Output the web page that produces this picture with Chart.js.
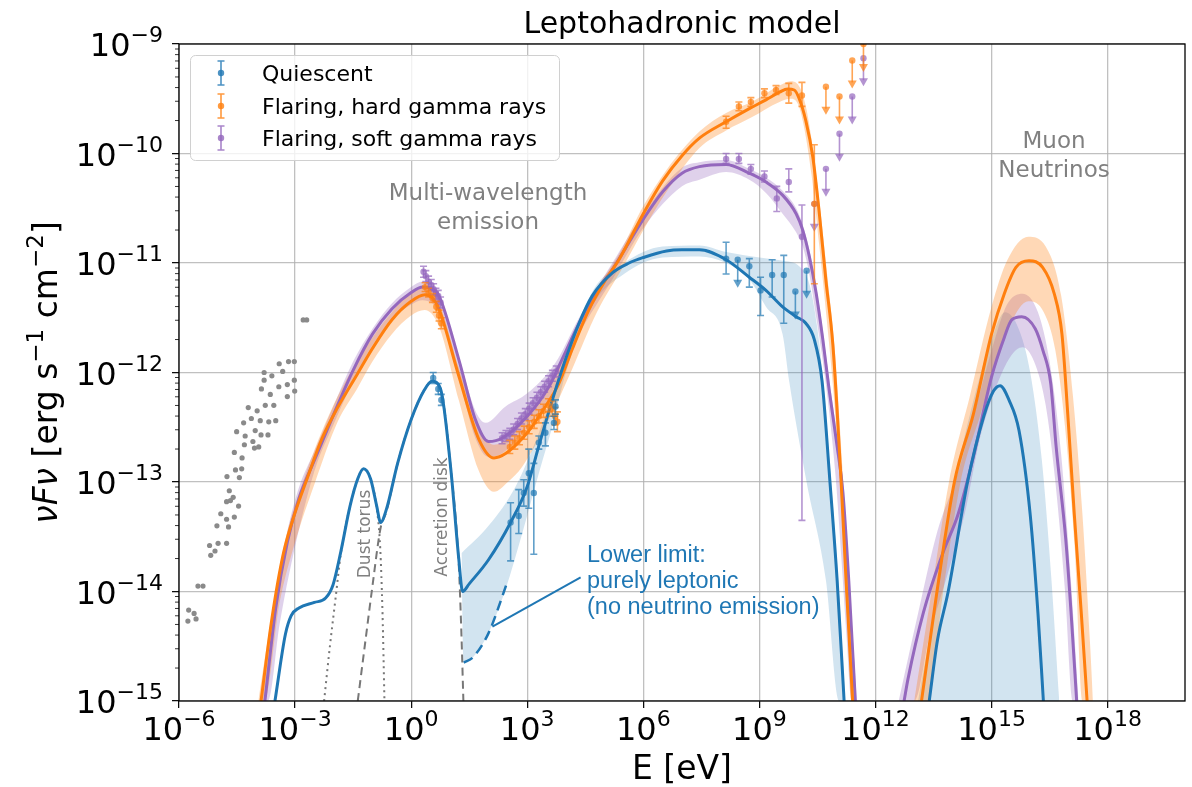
<!DOCTYPE html>
<html>
<head>
<meta charset="utf-8">
<script src="https://cdn.jsdelivr.net/npm/chart.js@4.4.1/dist/chart.umd.min.js"></script>
<style>
  body { margin: 0; background: #fff; }
  canvas { display: block; }
</style>
</head>
<body>
<canvas id="sed" width="1192" height="787"></canvas>
<script>
// all values are log10(E / eV), log10(nuFnu / erg s^-1 cm^-2)
const xTickExps = [-6, -3, 0, 3, 6, 9, 12, 15, 18];
const yTickExps = [-15, -14, -13, -12, -11, -10, -9];

// model curves
const quiescentCurve = [[-3.52,-15],[-3.25,-14.39],[-3.1,-14.22],[-2.9,-14.15],[-2.5,-14.1],[-2.21,-14.06],[-2.02,-13.94],[-1.82,-13.64],[-1.58,-13.22],[-1.38,-12.97],[-1.23,-12.88],[-1.05,-12.97],[-0.89,-13.22],[-0.79,-13.37],[-0.64,-13.25],[-0.35,-12.83],[0,-12.43],[0.34,-12.16],[0.54,-12.08],[0.76,-12.15],[1.03,-12.9],[1.23,-13.7],[1.33,-14.0],[1.5,-13.93],[2.0,-13.71],[2.57,-13.37],[3.0,-13.04],[3.3,-12.67],[3.65,-12.25],[3.99,-11.88],[4.34,-11.55],[4.68,-11.3],[5.2,-11.09],[5.63,-11.0],[6.0,-10.95],[6.6,-10.89],[7.0,-10.88],[7.45,-10.88],[8.14,-10.97],[8.74,-11.13],[9.17,-11.25],[9.6,-11.4],[9.95,-11.49],[10.2,-11.55],[10.42,-11.7],[10.62,-12.08],[10.82,-12.98],[11.01,-13.9],[11.19,-15]];
const hardCurve = [[-3.88,-15],[-3.6,-14.25],[-3.3,-13.65],[-3.0,-13.28],[-2.7,-12.98],[-2.3,-12.6],[-1.9,-12.32],[-1.4,-12.02],[-1.0,-11.78],[-0.5,-11.52],[0,-11.35],[0.35,-11.29],[0.55,-11.32],[0.72,-11.42],[1.23,-12.03],[1.75,-12.61],[2.14,-12.78],[2.44,-12.74],[3.0,-12.55],[3.47,-12.31],[3.82,-12.1],[4.16,-11.79],[4.59,-11.43],[5.03,-11.15],[5.37,-10.97],[6.0,-10.55],[6.5,-10.25],[7.0,-10.02],[7.45,-9.86],[8.14,-9.71],[8.74,-9.59],[9.17,-9.51],[9.52,-9.44],[9.73,-9.41],[9.9,-9.42],[10.03,-9.5],[10.2,-9.7],[10.38,-10.03],[10.55,-10.55],[10.72,-11.16],[10.9,-11.75],[11.11,-12.98],[11.24,-13.9],[11.41,-15]];
const softCurve = [[-3.78,-15],[-3.5,-14.15],[-3.2,-13.55],[-2.9,-13.15],[-2.5,-12.8],[-2.0,-12.38],[-1.5,-11.98],[-1.0,-11.65],[-0.5,-11.42],[0,-11.27],[0.3,-11.22],[0.55,-11.24],[0.72,-11.3],[1.23,-11.88],[1.66,-12.43],[2.0,-12.63],[2.35,-12.6],[3.0,-12.4],[3.56,-12.13],[3.9,-11.88],[4.34,-11.55],[4.77,-11.27],[5.2,-11.06],[6.0,-10.6],[6.5,-10.35],[7.0,-10.18],[7.45,-10.12],[8.14,-10.1],[8.74,-10.18],[9.17,-10.26],[9.6,-10.38],[9.95,-10.55],[10.12,-10.7],[10.29,-10.94],[10.47,-11.28],[10.64,-11.7],[10.8,-12.15],[11.0,-12.65],[11.16,-13.1],[11.31,-13.9],[11.48,-15]];
const quiescentNu = [[13.39,-15],[13.6,-14.45],[13.88,-14.0],[14.38,-13.0],[14.8,-12.4],[15.05,-12.17],[15.22,-12.12],[15.45,-12.25],[15.71,-12.53],[16.0,-13.3],[16.2,-14.2],[16.34,-15]];
const hardNu = [[13.19,-15],[13.59,-14],[14.04,-13],[14.53,-12.38],[15.0,-11.65],[15.33,-11.28],[15.63,-11.04],[15.97,-10.98],[16.32,-11.04],[16.62,-11.28],[16.82,-11.65],[16.97,-12.38],[17.14,-13.3],[17.32,-14.2],[17.47,-15]];
const softNu = [[12.74,-15],[12.84,-14.8],[13.24,-14.19],[13.74,-13.65],[14.14,-13.29],[14.53,-12.77],[15.0,-12.04],[15.33,-11.68],[15.52,-11.52],[15.78,-11.49],[16.13,-11.6],[16.33,-11.8],[16.53,-12.1],[16.67,-12.68],[16.92,-13.53],[17.07,-14.27],[17.2,-15]];

// components and lower limit
const dustTorus = [[-2.25,-15],[-2.1,-14.5],[-1.95,-14.05],[-1.82,-13.66],[-1.58,-13.22],[-1.38,-12.97],[-1.23,-12.88],[-1.05,-12.97],[-0.89,-13.24],[-0.8,-13.6],[-0.74,-14.2],[-0.69,-15]];
const accretionDisk = [[-1.38,-15],[-1.2,-14.5],[-1.0,-13.95],[-0.79,-13.42],[-0.64,-13.27],[-0.35,-12.83],[0,-12.43],[0.34,-12.16],[0.54,-12.08],[0.76,-12.15],[1.03,-12.9],[1.23,-13.75],[1.3,-14.4],[1.35,-15]];
const leptonicLimit = [[1.36,-14.65],[1.6,-14.6],[2.0,-14.38],[2.5,-13.9]];
const limitPointer = [[2.1,-14.32],[4.38,-13.87]];

// uncertainty bands (upper, lower)
const hardBandHi = [[-3.95,-15],[-3.6,-14.2],[-3.3,-13.6],[-2.7,-12.9],[-1.9,-12.22],[-1.0,-11.68],[-0.5,-11.45],[0,-11.27],[0.35,-11.22],[0.72,-11.36],[1.23,-11.95],[1.75,-12.5],[2.14,-12.66],[2.5,-12.6],[3.0,-12.4],[3.5,-12.18],[4.16,-11.7],[4.6,-11.35],[5.4,-10.9],[6.0,-10.48],[6.6,-10.15],[7.45,-9.8],[8.14,-9.63],[8.8,-9.53],[9.52,-9.38],[9.8,-9.34],[10.05,-9.4],[10.22,-9.6],[10.4,-10.0],[10.57,-10.5],[10.75,-11.1],[10.95,-11.8],[11.15,-12.9],[11.3,-13.9],[11.46,-15]];
const hardBandLo = [[-3.95,-15],[-3.8,-15],[-3.4,-14.1],[-3.0,-13.55],[-2.5,-13.02],[-1.9,-12.45],[-1.4,-12.15],[-1.0,-11.9],[-0.5,-11.65],[0,-11.48],[0.35,-11.43],[0.72,-11.58],[1.23,-12.25],[1.75,-12.9],[2.14,-13.09],[2.5,-13.0],[2.87,-12.86],[3.56,-12.43],[4.16,-11.97],[4.8,-11.45],[5.5,-11.02],[6.0,-10.7],[6.6,-10.35],[7.45,-9.95],[8.14,-9.79],[8.8,-9.67],[9.52,-9.53],[9.8,-9.5],[10.0,-9.55],[10.15,-9.75],[10.35,-10.2],[10.55,-10.85],[10.75,-11.55],[10.92,-12.2],[11.1,-13.1],[11.25,-14.0],[11.38,-15],[11.46,-15]];
const softBandHi = [[-3.85,-15],[-3.5,-14.05],[-3.2,-13.45],[-2.9,-13.05],[-2.5,-12.72],[-2.0,-12.3],[-1.5,-11.9],[-1.0,-11.6],[-0.5,-11.37],[0,-11.22],[0.3,-11.17],[0.55,-11.2],[0.72,-11.27],[1.23,-11.85],[1.66,-12.35],[1.92,-12.46],[2.44,-12.31],[3.0,-12.19],[3.73,-11.91],[4.34,-11.5],[5.2,-11.0],[6.0,-10.55],[7.0,-10.13],[7.45,-10.08],[8.14,-10.06],[8.74,-10.14],[9.17,-10.22],[9.6,-10.34],[9.95,-10.5],[10.12,-10.65],[10.29,-10.88],[10.47,-11.22],[10.64,-11.62],[10.8,-12.05],[11.0,-12.55],[11.16,-13.0],[11.32,-13.9],[11.52,-15]];
const softBandLo = [[-3.85,-15],[-3.7,-15],[-3.4,-14.3],[-3.1,-13.75],[-2.5,-12.9],[-2.0,-12.47],[-1.5,-12.08],[-1.0,-11.75],[-0.5,-11.52],[0,-11.38],[0.3,-11.34],[0.55,-11.37],[0.72,-11.45],[1.23,-12.05],[1.66,-12.6],[2.0,-12.77],[2.35,-12.74],[3.0,-12.5],[3.56,-12.24],[4.34,-11.65],[5.2,-11.15],[6.0,-10.68],[7.0,-10.3],[7.45,-10.24],[8.14,-10.17],[8.74,-10.24],[9.17,-10.36],[9.6,-10.55],[9.95,-10.72],[10.12,-10.85],[10.29,-11.1],[10.47,-11.5],[10.64,-11.9],[10.8,-12.35],[10.97,-12.95],[11.12,-13.7],[11.25,-14.4],[11.38,-15],[11.52,-15]];
const quiescentBandHi = [[1.3,-13.65],[2.0,-13.4],[2.7,-13.04],[3.3,-12.55],[4.0,-11.85],[4.7,-11.25],[5.5,-11.0],[6.5,-10.85],[7.45,-10.84],[8.14,-10.9],[9.0,-10.95],[9.6,-10.98],[10.03,-11.03],[10.3,-11.2],[10.5,-11.6],[10.65,-12.08],[10.85,-12.98],[11.04,-13.9],[11.22,-15]];
const quiescentBandLo = [[1.3,-13.65],[1.36,-14.65],[1.6,-14.6],[2.0,-14.38],[2.44,-13.98],[2.87,-13.47],[3.3,-12.92],[3.65,-12.49],[4.0,-12.0],[4.7,-11.38],[5.5,-11.1],[6.5,-10.95],[7.45,-10.94],[8.14,-11.0],[8.74,-11.15],[9.17,-11.4],[9.6,-11.65],[9.77,-12.08],[10.22,-13.0],[10.72,-13.9],[11.06,-15],[11.22,-15]];
const hardNuBandHi = [[13.0,-15],[13.45,-14],[13.9,-13],[14.45,-12.2],[15.0,-11.4],[15.4,-10.98],[15.95,-10.76],[16.4,-10.85],[16.8,-11.3],[17.1,-12.2],[17.35,-13.3],[17.55,-14.5],[17.62,-15]];
const hardNuBandLo = [[13.0,-15],[13.35,-15],[13.75,-14],[14.2,-13],[14.7,-12.4],[15.1,-11.95],[15.5,-11.55],[15.95,-11.35],[16.35,-11.45],[16.65,-11.8],[16.9,-12.5],[17.15,-13.6],[17.35,-15],[17.62,-15]];
const softNuBandHi = [[12.6,-15],[13.1,-14.2],[13.6,-13.45],[14.1,-12.95],[14.5,-12.45],[15.0,-11.8],[15.4,-11.38],[15.8,-11.28],[16.2,-11.45],[16.5,-11.9],[16.8,-12.75],[17.05,-13.9],[17.25,-15]];
const softNuBandLo = [[12.6,-15],[13.0,-15],[13.4,-14.4],[13.9,-13.8],[14.3,-13.3],[14.7,-12.6],[15.1,-12.15],[15.5,-11.85],[15.8,-11.77],[16.1,-11.9],[16.4,-12.3],[16.65,-13.0],[16.9,-14.0],[17.1,-15],[17.25,-15]];
const quiescentNuBand = [[13.1,-15],[13.5,-14.2],[14.0,-13.1],[14.5,-12.3],[15.0,-11.7],[15.35,-11.45],[15.7,-11.6],[16.0,-12.0],[16.3,-12.8],[16.55,-13.9],[16.75,-15]];

// data: [logE, logF, logF_hi, logF_lo]; limits: [logE, logF]
const quiescentPoints = [[0.57,-12.05,-12.0,-12.1],[0.7,-12.15,-12.1,-12.2],[0.78,-12.25,-12.2,-12.3],
  [2.57,-13.37,-13.19,-13.72],[2.78,-13.31,-13.07,-13.47],[2.91,-13.1,-12.98,-13.22],[3.04,-12.92,-12.7,-13.24],[3.17,-13.1,-12.83,-13.66],[3.3,-12.64,-12.58,-12.7],[3.47,-12.55,-12.46,-12.67],[3.69,-12.46,-12.4,-12.52],[3.73,-12.31,-12.25,-12.38],
  [8.14,-10.96,-10.81,-11.1],[8.74,-11.03,-10.96,-11.22],[9.03,-11.25,-11.13,-11.48],[9.33,-11.11,-10.97,-11.31],[9.63,-11.11,-10.93,-11.55]];
const quiescentLimits = [[8.44,-10.97],[9.93,-11.26],[10.22,-11.07]];
const hardPoints = [[0.36,-11.22,-11.18,-11.26],[0.45,-11.27,-11.23,-11.31],[0.55,-11.32,-11.28,-11.36],[0.65,-11.4,-11.35,-11.45],[0.72,-11.48,-11.43,-11.53],[0.78,-11.55,-11.5,-11.6],
  [2.55,-12.68,-12.62,-12.74],[2.68,-12.64,-12.58,-12.7],[2.8,-12.6,-12.54,-12.66],[2.92,-12.55,-12.49,-12.61],[3.05,-12.5,-12.44,-12.56],[3.18,-12.45,-12.39,-12.51],[3.3,-12.4,-12.34,-12.46],[3.42,-12.35,-12.29,-12.41],[3.55,-12.3,-12.24,-12.36],[3.65,-12.33,-12.26,-12.4],[3.72,-12.4,-12.32,-12.48],[3.78,-12.45,-12.36,-12.54],
  [8.14,-9.71,-9.66,-9.77],[8.47,-9.57,-9.53,-9.61],[8.78,-9.53,-9.49,-9.57],[9.13,-9.45,-9.41,-9.49],[9.43,-9.42,-9.38,-9.46],[9.76,-9.45,-9.36,-9.54],[10.1,-9.47,-9.35,-9.57],[10.42,-10.46,-9.92,-11.19]];
const hardLimits = [[10.72,-9.39],[11.07,-9.48],[11.4,-9.15],[11.69,-9.0]];
const softPoints = [[0.32,-11.08,-11.03,-11.13],[0.38,-11.12,-11.07,-11.17],[0.45,-11.17,-11.12,-11.22],[0.52,-11.2,-11.15,-11.25],[0.58,-11.24,-11.19,-11.29],[0.64,-11.28,-11.23,-11.33],[0.7,-11.3,-11.25,-11.35],[0.76,-11.36,-11.31,-11.41],
  [2.35,-12.6,-12.55,-12.65],[2.45,-12.58,-12.53,-12.63],[2.55,-12.56,-12.51,-12.61],[2.65,-12.52,-12.47,-12.57],[2.75,-12.47,-12.42,-12.52],[2.85,-12.42,-12.37,-12.47],[2.95,-12.38,-12.33,-12.43],[3.05,-12.33,-12.28,-12.38],[3.15,-12.28,-12.23,-12.33],[3.25,-12.23,-12.18,-12.28],[3.35,-12.18,-12.13,-12.23],[3.45,-12.13,-12.08,-12.18],[3.55,-12.08,-12.03,-12.13],[3.65,-12.03,-11.98,-12.08],[3.75,-11.99,-11.94,-12.04],
  [8.14,-10.05,-10.0,-10.09],[8.47,-10.05,-10.0,-10.09],[8.78,-10.14,-10.1,-10.19],[9.13,-10.21,-10.16,-10.26],[9.45,-10.41,-10.3,-10.53],[9.76,-10.26,-10.14,-10.35],[10.1,-10.76,-10.47,-13.35]];
const softLimits = [[10.42,-10.46],[10.72,-10.14],[11.07,-9.82],[11.4,-9.48],[11.69,-9.13]];
const dustPoints = [[-2.79,-11.52],[-2.7,-11.52],[-3.41,-11.92],[-3.17,-11.9],[-3.02,-11.9],[-3.8,-12.0],[-3.6,-12.03],[-3.32,-11.99],[-3.8,-12.07],[-3.02,-12.07],[-3.42,-12.13],[-3.2,-12.11],[-3.01,-12.17],[-3.87,-12.15],[-3.64,-12.2],[-3.2,-12.22],[-3.77,-12.3],[-3.55,-12.3],[-4.21,-12.32],[-3.98,-12.35],[-4.13,-12.42],[-3.9,-12.44],[-3.68,-12.45],[-3.5,-12.44],[-4.33,-12.46],[-4.51,-12.54],[-4.03,-12.53],[-4.29,-12.58],[-3.88,-12.57],[-3.7,-12.57],[-4.09,-12.63],[-4.31,-12.66],[-3.94,-12.68],[-4.05,-12.69],[-4.57,-12.73],[-4.37,-12.78],[-4.54,-12.89],[-4.38,-12.88],[-4.76,-12.95],[-4.44,-12.96],[-4.7,-13.08],[-4.6,-13.14],[-4.46,-13.22],[-4.77,-13.18],[-4.67,-13.17],[-4.92,-13.29],[-4.77,-13.34],[-4.57,-13.32],[-5.02,-13.4],[-4.72,-13.41],[-5.21,-13.58],[-4.99,-13.56],[-4.77,-13.56],[-5.18,-13.67],[-5.07,-13.63],[-5.51,-13.95],[-5.38,-13.95],[-5.75,-14.17],[-5.61,-14.2],[-5.77,-14.27],[-5.56,-14.25]];

const BLUE = "#1f77b4", ORANGE = "#ff7f0e", PURPLE = "#9467bd", GRAY = "#808080";

const toXY = pairs => pairs.map(([e, f]) => ({ x: 10 ** e, y: 10 ** f }));

function curve(pairs, color, width, extra) {
  return Object.assign({
    data: toXY(pairs), borderColor: color, borderWidth: width, pointRadius: 0,
    fill: false, cubicInterpolationMode: "monotone", order: 3
  }, extra || {});
}

function band(hi, lo, color) {
  return [
    { data: toXY(hi), borderColor: "transparent", borderWidth: 0, pointRadius: 0, backgroundColor: color, fill: "+1", cubicInterpolationMode: "monotone", order: 6 },
    { data: toXY(lo), borderColor: "transparent", borderWidth: 0, pointRadius: 0, fill: false, cubicInterpolationMode: "monotone", order: 6 }
  ];
}

function markers(points, limits, color, barColor) {
  return {
    data: toXY([...points, ...limits]), showLine: false, pointRadius: 3.2,
    pointBackgroundColor: barColor, pointBorderWidth: 0, order: 1,
    errPoints: points, errLimits: limits, barColor
  };
}

function drawErrorBars(chart, ds) {
  const { ctx, chartArea: a } = chart;
  const xs = chart.scales.x, ys = chart.scales.y;
  ctx.save();
  ctx.beginPath();
  ctx.rect(a.left, a.top, a.right - a.left, a.bottom - a.top);
  ctx.clip();
  ctx.strokeStyle = ds.barColor;
  ctx.fillStyle = ds.barColor;
  ctx.lineWidth = 1.6;
  ds.errPoints.forEach(p => {
    const px = xs.getPixelForValue(10 ** p[0]);
    const hi = ys.getPixelForValue(10 ** p[2]);
    const lo = ys.getPixelForValue(10 ** p[3]);
    ctx.beginPath();
    ctx.moveTo(px, hi); ctx.lineTo(px, lo);
    ctx.moveTo(px - 3.5, hi); ctx.lineTo(px + 3.5, hi);
    ctx.moveTo(px - 3.5, lo); ctx.lineTo(px + 3.5, lo);
    ctx.stroke();
  });
  ds.errLimits.forEach(p => {
    const px = xs.getPixelForValue(10 ** p[0]);
    const py = ys.getPixelForValue(10 ** p[1]);
    ctx.beginPath();
    ctx.moveTo(px, py); ctx.lineTo(px, py + 22);
    ctx.stroke();
    ctx.beginPath();
    ctx.moveTo(px - 4.5, py + 20); ctx.lineTo(px + 4.5, py + 20); ctx.lineTo(px, py + 28);
    ctx.closePath();
    ctx.fill();
  });
  ctx.restore();
}

function drawPow(ctx, exp, x, base, align) {
  const sup = exp < 0 ? "\u2212" + (-exp) : String(exp);
  const big = '32px "DejaVu Sans"', small = '22px "DejaVu Sans"';
  ctx.font = big; const w1 = ctx.measureText("10").width;
  ctx.font = small; const w2 = ctx.measureText(sup).width;
  const x0 = align === "center" ? x - (w1 + w2) / 2 : x - w1 - w2;
  ctx.textAlign = "left";
  ctx.textBaseline = "alphabetic";
  ctx.font = big; ctx.fillText("10", x0, base);
  ctx.font = small; ctx.fillText(sup, x0 + w1, base - 14);
}

function drawRich(ctx, parts, cx, base) {
  let total = 0;
  parts.forEach(p => { ctx.font = p.font; p.w = ctx.measureText(p.t).width; total += p.w; });
  let x = cx - total / 2;
  ctx.textAlign = "left";
  parts.forEach(p => { ctx.font = p.font; ctx.fillText(p.t, x, base - (p.rise || 0)); x += p.w; });
}

const decor = {
  id: "decor",
  beforeDatasetDraw(chart, args) {
    const ds = chart.data.datasets[args.index];
    if (ds.errPoints) drawErrorBars(chart, ds);
  },
  afterDraw(chart) {
    const { ctx, chartArea: a } = chart;
    const xs = chart.scales.x, ys = chart.scales.y;
    ctx.save();

    // minor ticks on the y axis
    ctx.strokeStyle = "#000";
    ctx.lineWidth = 0.8;
    for (let d = -15; d < -9; d++) {
      for (let k = 2; k <= 9; k++) {
        const py = ys.getPixelForValue(k * 10 ** d);
        ctx.beginPath(); ctx.moveTo(a.left - 4, py); ctx.lineTo(a.left, py); ctx.stroke();
      }
    }
    // frame
    ctx.lineWidth = 1.3;
    ctx.strokeRect(a.left, a.top, a.right - a.left, a.bottom - a.top);

    // tick labels
    ctx.fillStyle = "#000";
    xTickExps.forEach(e => drawPow(ctx, e, xs.getPixelForValue(10 ** e), 740, "center"));
    yTickExps.forEach(e => drawPow(ctx, e, 163, ys.getPixelForValue(10 ** e) + 12, "right"));

    // axis labels and title
    ctx.font = '33px "DejaVu Sans"';
    ctx.textAlign = "center";
    ctx.fillText("E [eV]", (a.left + a.right) / 2, 779);
    ctx.font = '30px "DejaVu Sans"';
    ctx.fillText("Leptohadronic model", (a.left + a.right) / 2, 33);

    ctx.save();
    ctx.translate(57, (a.top + a.bottom) / 2);
    ctx.rotate(-Math.PI / 2);
    const reg = '33px "DejaVu Sans"', it = 'italic 33px "DejaVu Sans"', sm = '23px "DejaVu Sans"';
    drawRich(ctx, [
      { t: "\u03bdF\u03bd", font: it }, { t: " [erg s", font: reg }, { t: "\u22121", font: sm, rise: 14 },
      { t: " cm", font: reg }, { t: "\u22122", font: sm, rise: 14 }, { t: "]", font: reg }
    ], 0, 0);
    ctx.restore();

    // annotations
    ctx.fillStyle = GRAY;
    ctx.font = '23px "DejaVu Sans"';
    ctx.textAlign = "center";
    ctx.fillText("Multi-wavelength", 488, 200);
    ctx.fillText("emission", 488, 229);
    ctx.fillText("Muon", 1054, 148);
    ctx.fillText("Neutrinos", 1054, 177);
    ctx.font = '17px "DejaVu Sans"';
    [["Dust torus", 370, 534], ["Accretion disk", 447, 517]].forEach(([t, x, y]) => {
      ctx.save(); ctx.translate(x, y); ctx.rotate(-Math.PI / 2); ctx.fillText(t, 0, 0); ctx.restore();
    });
    ctx.fillStyle = BLUE;
    ctx.font = '23.5px "Liberation Sans"';
    ctx.textAlign = "left";
    ctx.fillText("Lower limit:", 587, 562);
    ctx.fillText("purely leptonic", 587, 588);
    ctx.fillText("(no neutrino emission)", 587, 614);

    // legend
    ctx.beginPath();
    ctx.roundRect(190.5, 55.5, 369, 105, 5);
    ctx.fillStyle = "rgba(255,255,255,0.8)";
    ctx.fill();
    ctx.strokeStyle = "#d0d0d0";
    ctx.lineWidth = 1;
    ctx.stroke();
    const entries = [["Quiescent", "rgba(31,119,180,0.8)", 73], ["Flaring, hard gamma rays", "rgba(255,127,14,0.8)", 106], ["Flaring, soft gamma rays", "rgba(148,103,189,0.8)", 138]];
    entries.forEach(([label, color, y]) => {
      ctx.strokeStyle = color; ctx.fillStyle = color; ctx.lineWidth = 1.6;
      ctx.beginPath();
      ctx.moveTo(221, y - 12); ctx.lineTo(221, y + 12);
      ctx.moveTo(217.5, y - 12); ctx.lineTo(224.5, y - 12);
      ctx.moveTo(217.5, y + 12); ctx.lineTo(224.5, y + 12);
      ctx.stroke();
      ctx.beginPath(); ctx.arc(221, y, 3.2, 0, Math.PI * 2); ctx.fill();
      ctx.fillStyle = "#000";
      ctx.font = '22px "DejaVu Sans"';
      ctx.fillText(label, 262, y + 8);
    });
    ctx.restore();
  }
};

const datasets = [
  ...band(hardBandHi, hardBandLo, "rgba(255,127,14,0.3)"),
  ...band(softBandHi, softBandLo, "rgba(148,103,189,0.3)"),
  ...band(quiescentBandHi, quiescentBandLo, "rgba(31,119,180,0.2)"),
  ...band(hardNuBandHi, hardNuBandLo, "rgba(255,127,14,0.3)"),
  ...band(softNuBandHi, softNuBandLo, "rgba(148,103,189,0.3)"),
  curve(quiescentNuBand, "transparent", 0, { backgroundColor: "rgba(31,119,180,0.2)", fill: "start", order: 6 }),
  curve(dustTorus, "#777", 2, { borderDash: [2, 4], order: 4 }),
  curve(accretionDisk, "#777", 2, { borderDash: [8, 5], order: 4 }),
  curve(leptonicLimit, BLUE, 2.5, { borderDash: [10, 6] }),
  curve(limitPointer, BLUE, 2, { cubicInterpolationMode: "default", tension: 0 }),
  curve(quiescentCurve, BLUE, 3),
  curve(hardCurve, ORANGE, 3),
  curve(softCurve, PURPLE, 3),
  curve(quiescentNu, BLUE, 3),
  curve(hardNu, ORANGE, 3),
  curve(softNu, PURPLE, 3),
  { data: toXY(dustPoints), showLine: false, pointRadius: 2.6, pointBackgroundColor: "#8a8a8a", pointBorderWidth: 0, order: 2 },
  markers(quiescentPoints, quiescentLimits, BLUE, "rgba(31,119,180,0.7)"),
  markers(hardPoints, hardLimits, ORANGE, "rgba(255,127,14,0.7)"),
  markers(softPoints, softLimits, PURPLE, "rgba(148,103,189,0.7)")
];

const gridOpts = { color: "rgba(176,176,176,0.8)", lineWidth: 1.3, tickColor: "#000", tickLength: 7, tickWidth: 1.2 };

new Chart(document.getElementById("sed"), {
  type: "line",
  data: { datasets },
  options: {
    responsive: false,
    animation: false,
    layout: { padding: { top: 44, right: 7, left: 0, bottom: 0 } },
    plugins: { legend: { display: false }, tooltip: { enabled: false }, title: { display: false } },
    scales: {
      x: {
        type: "logarithmic", min: 1e-6, max: 1e20,
        afterBuildTicks: s => { s.ticks = xTickExps.map(e => ({ value: 10 ** e })); },
        afterFit: s => { s.height = 86; },
        ticks: { display: false, autoSkip: false },
        grid: gridOpts, border: { display: false }
      },
      y: {
        type: "logarithmic", min: 1e-15, max: 1e-9,
        afterBuildTicks: s => { s.ticks = yTickExps.map(e => ({ value: 10 ** e })); },
        afterFit: s => { s.width = 179; },
        ticks: { display: false, autoSkip: false },
        grid: gridOpts, border: { display: false }
      }
    }
  },
  plugins: [decor]
});
</script>
</body>
</html>
